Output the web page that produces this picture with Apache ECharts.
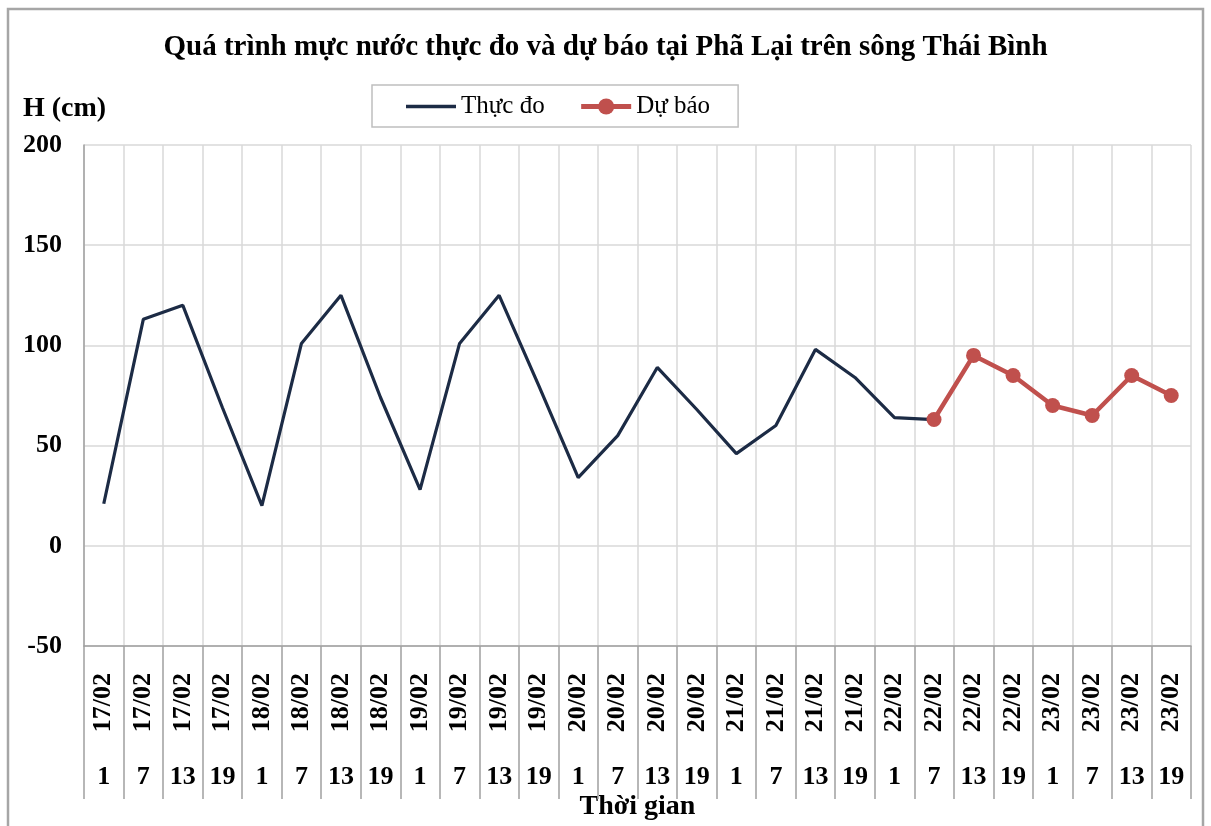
<!DOCTYPE html>
<html>
	<head>
		<meta charset="utf-8" />
		<title>Phả Lại</title>
		<script src="https://cdn.jsdelivr.net/npm/echarts@6/dist/echarts.min.js"></script>
		<style>
			html, body { margin: 0; padding: 0; background: #fff; }
			#main { width: 1211px; height: 826px; }
		</style>
	</head>
	<body>
		<div id="main"></div>
		<script>
			// ngay / gio tren truc x
			var ngay = ['17/02','17/02','17/02','17/02','18/02','18/02','18/02','18/02',
				'19/02','19/02','19/02','19/02','20/02','20/02','20/02','20/02',
				'21/02','21/02','21/02','21/02','22/02','22/02','22/02','22/02',
				'23/02','23/02','23/02','23/02'];
			var gio = ['1','7','13','19','1','7','13','19','1','7','13','19','1','7','13','19',
				'1','7','13','19','1','7','13','19','1','7','13','19'];
			// muc nuoc thuc do (cm)
			var thucDo = [21, 113, 120, 69, 20, 101, 125, 74, 28, 101, 125, 80,
				34, 55, 89, 68, 46, 60, 98, 84, 64, 63,
				null, null, null, null, null, null];
			// muc nuoc du bao (cm)
			var duBao = [null, null, null, null, null, null, null, null, null, null, null, null,
				null, null, null, null, null, null, null, null, null,
				63, 95, 85, 70, 65, 85, 75];
			var yTicks = { min: -50, max: 200, interval: 50 };

			var font = 'Liberation Serif';
			var myChart = echarts.init(document.getElementById('main'));
			var option = {
				backgroundColor: '#fff',
				animation: false,
				graphic: [{
					type: 'rect',
					shape: { x: 8, y: 9, width: 1195, height: 830 },
					style: { fill: 'none', stroke: '#a6a6a6', lineWidth: 2.5 },
					silent: true
				}],
				title: [{
					text: 'Quá trình mực nước thực đo và dự báo tại Phã Lại trên sông Thái Bình',
					left: 'center',
					top: 28,
					textStyle: { fontFamily: font, fontSize: 29, fontWeight: 'bold', color: '#000' }
				}, {
					text: 'H (cm)',
					left: 18,
					top: 90,
					textStyle: { fontFamily: font, fontSize: 28, fontWeight: 'bold', color: '#000' }
				}],
				legend: {
					left: 372,
					top: 85,
					padding: [9, 28, 8, 34],
					borderColor: '#bfbfbf',
					borderWidth: 1.5,
					itemWidth: 50,
					itemHeight: 20,
					itemGap: 34,
					textStyle: { fontFamily: font, fontSize: 25, color: '#000' },
					data: [
						{ name: 'Thực đo', icon: 'path://M0,0 L50,0 L50,3.5 L0,3.5 Z' },
						{ name: 'Dự báo', lineStyle: { width: 5 } }
					]
				},
				grid: { left: 84, right: 20, top: 145, bottom: 179 },
				xAxis: [{
					type: 'category',
					data: ngay,
					boundaryGap: true,
					axisLine: { onZero: false, lineStyle: { color: '#a0a0a0', width: 1.5 } },
					axisTick: { show: true, interval: 0, length: 153, lineStyle: { color: '#a0a0a0', width: 1.5 } },
					splitLine: { show: true, interval: 0, lineStyle: { color: '#d9d9d9', width: 1.5 } },
					axisLabel: {
						interval: 0, rotate: 90, margin: 27,
						fontFamily: font, fontSize: 26, fontWeight: 'bold', color: '#000'
					},
					name: 'Thời gian',
					nameLocation: 'middle',
					nameGap: 147,
					nameTextStyle: { fontFamily: font, fontSize: 28, fontWeight: 'bold', color: '#000' }
				}, {
					type: 'category',
					data: gio,
					position: 'bottom',
					boundaryGap: true,
					axisLine: { show: false, onZero: false },
					axisTick: { show: false },
					splitLine: { show: false },
					axisLabel: {
						interval: 0, margin: 118,
						fontFamily: font, fontSize: 26, fontWeight: 'bold', color: '#000'
					}
				}],
				yAxis: {
					type: 'value',
					min: yTicks.min,
					max: yTicks.max,
					interval: yTicks.interval,
					axisLine: { show: true, lineStyle: { color: '#a0a0a0', width: 1.5 } },
					axisTick: { show: false },
					splitLine: { lineStyle: { color: '#d9d9d9', width: 1.5 } },
					axisLabel: { margin: 22, fontFamily: font, fontSize: 26, fontWeight: 'bold', color: '#000' }
				},
				series: [{
					name: 'Thực đo',
					type: 'line',
					data: thucDo,
					symbol: 'none',
					lineStyle: { color: '#1c2b45', width: 3.2 },
					itemStyle: { color: '#1c2b45' }
				}, {
					name: 'Dự báo',
					type: 'line',
					data: duBao,
					symbol: 'circle',
					symbolSize: 15,
					lineStyle: { color: '#c0504d', width: 4.5 },
					itemStyle: { color: '#c0504d' },
					z: 3
				}]
			};
			myChart.setOption(option);
		</script>
	</body>
</html>
